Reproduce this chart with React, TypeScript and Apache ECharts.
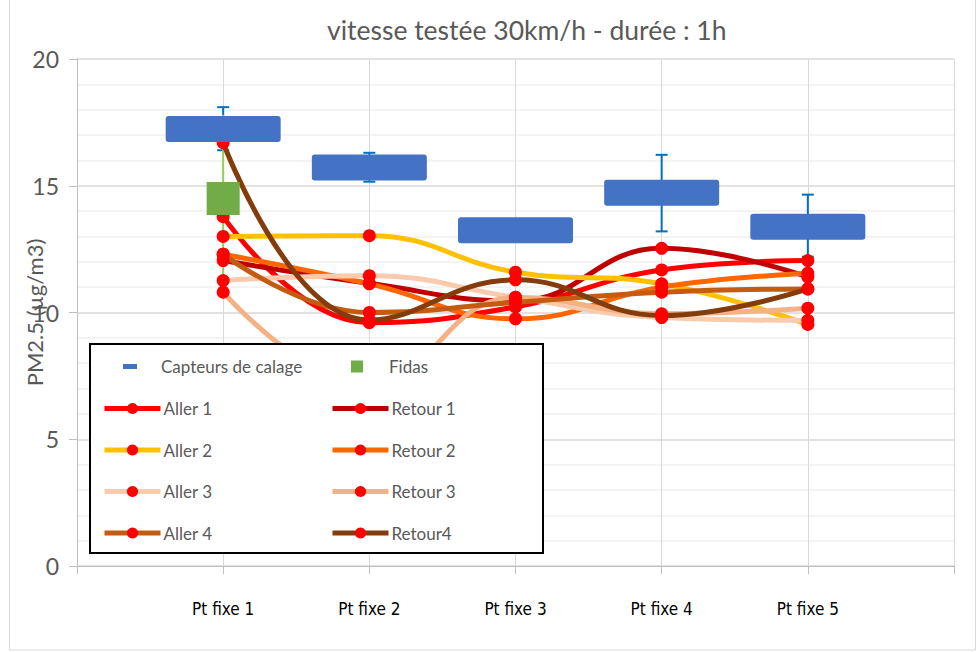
import React, { useEffect, useRef } from 'react';
import * as echarts from 'echarts';

const titleText = 'vitesse testée 30km/h - durée : 1h';
const yAxisName = 'PM2.5 (µg/m3)';
const categories = ['Pt fixe 1', 'Pt fixe 2', 'Pt fixe 3', 'Pt fixe 4', 'Pt fixe 5'];
const positions = [1, 2, 3, 4, 5];

const capteursMean = [17.24, 15.72, 13.24, 14.72, 13.38];
const capteursMin = [16.4, 15.16, 12.95, 13.2, 12.2];
const capteursMax = [18.1, 16.3, 13.55, 16.22, 14.65];

const fidasPos = [1];
const fidasMean = [14.5];
const fidasMin = [11.0];
const fidasMax = [17.8];

const aller1 = [13.78, 9.6, 10.22, 11.68, 12.05];
const retour1 = [12.05, 11.15, 10.45, 12.53, 11.4];
const aller2 = [13.0, 13.03, 11.59, 11.13, 9.53];
const retour2 = [12.3, 11.13, 9.75, 11.0, 11.55];
const aller3 = [11.26, 11.45, 10.6, 9.8, 9.69];
const retour3 = [10.8, 7.2, 10.6, 9.95, 10.17];
const aller4 = [12.3, 10.0, 10.4, 10.8, 10.93];
const retour4 = [16.7, 9.7, 11.29, 9.88, 10.93];

const lineNames = ['Aller 1', 'Retour 1', 'Aller 2', 'Retour 2', 'Aller 3', 'Retour 3', 'Aller 4', 'Retour4'];
const lineValues = [aller1, retour1, aller2, retour2, aller3, retour3, aller4, retour4];
const lineColors = ['#FF0000', '#C00000', '#FFC000', '#FF6600', '#F8CBAD', '#F4B183', '#C55A11', '#843C0C'];

const FONT = 'Lato, "Open Sans", sans-serif';
const TXT = '#595959';

export default function App() {
  const ref = useRef<HTMLDivElement>(null);
  useEffect(() => {
    document.body.style.margin = '0';
    const chart = echarts.init(ref.current!, null, { renderer: 'svg' });

    const errSeries = (name: string, xs: number[], lo: number[], hi: number[], color: string, cap: number) => ({
      type: 'custom',
      name,
      z: 1,
      silent: true,
      encode: { x: 0, y: [1, 2] },
      data: xs.map((x, i) => [x, lo[i], hi[i]]),
      renderItem: (params: any, api: any) => {
        const x = api.value(0);
        const a = api.coord([x, api.value(1)]);
        const b = api.coord([x, api.value(2)]);
        const st = { stroke: color, lineWidth: 2 };
        const children: any[] = [
          { type: 'line', shape: { x1: a[0], y1: a[1], x2: b[0], y2: b[1] }, style: st },
        ];
        if (cap > 0) {
          children.push({ type: 'line', shape: { x1: a[0] - cap, y1: a[1], x2: a[0] + cap, y2: a[1] }, style: st });
          children.push({ type: 'line', shape: { x1: b[0] - cap, y1: b[1], x2: b[0] + cap, y2: b[1] }, style: st });
        }
        return { type: 'group', children };
      },
    });

    const lineSeries = lineNames.map((name, k) => ({
      type: 'line',
      name,
      z: 2,
      smooth: 0.45,
      symbol: 'circle',
      symbolSize: 13,
      showSymbol: true,
      itemStyle: { color: '#FF0000' },
      lineStyle: { color: lineColors[k], width: 5 },
      data: positions.map((x, i) => [x, lineValues[k][i]]),
    }));

    const boxPath = 'path://M3,0h109a3,3 0 0 1 3,3v20a3,3 0 0 1 -3,3h-109a3,3 0 0 1 -3,-3v-20a3,3 0 0 1 3,-3z';

    const legendCols = [102, 330];
    const legendRowCenters = [365, 407, 448.5, 490, 531.5];
    const legendNames = ['Capteurs de calage', 'Fidas', ...lineNames];
    const legends = legendNames.map((name, i) => {
      const col = i % 2;
      const row = Math.floor(i / 2);
      let item: any = { name };
      if (name === 'Capteurs de calage') item = { name, icon: 'path://M0,0M56,14M21,4.5h14v5h-14z' };
      if (name === 'Fidas') item = { name, icon: 'path://M0,0M56,14M21,1h12v12h-12z' };
      return {
        data: [item],
        left: legendCols[col],
        top: legendRowCenters[row] - 7,
        padding: 0,
        itemWidth: 56,
        itemHeight: 14,
        itemGap: 0,
        z: 10,
        selectedMode: false,
        lineStyle: { width: 5 },
        textStyle: { color: TXT, fontSize: 17, fontFamily: FONT, padding: [0, 0, 0, -2] },
      };
    });

    chart.setOption({
      animation: false,
      backgroundColor: '#ffffff',
      title: {
        text: titleText,
        left: 327,
        top: 16,
        padding: 0,
        textStyle: { color: TXT, fontSize: 26.5, fontWeight: 'normal', fontFamily: FONT },
      },
      legend: legends,
      grid: { left: 77, right: 23, top: 59, bottom: 86, containLabel: false, outerBoundsMode: 'none' },
      xAxis: {
        type: 'value',
        min: 0,
        max: 6,
        interval: 1,
        axisLine: { show: true, lineStyle: { color: '#bfbfbf', width: 1 } },
        axisTick: { show: true, length: 8, lineStyle: { color: '#bfbfbf' } },
        splitLine: { show: true, lineStyle: { color: '#d9d9d9', width: 1 } },
        axisLabel: {
          margin: 34,
          color: '#000000',
          fontSize: 17,
          fontFamily: '"Liberation Sans Narrow", "DejaVu Sans Condensed", "Noto Sans", sans-serif',
          formatter: (v: number) => (v >= 1 && v <= categories.length ? categories[v - 1] : ''),
        },
      },
      yAxis: {
        type: 'value',
        min: 0,
        max: 20,
        interval: 5,
        name: yAxisName,
        nameLocation: 'middle',
        nameRotate: 90,
        nameGap: 32,
        nameMoveOverlap: false,
        nameTextStyle: { color: TXT, fontSize: 22, fontFamily: FONT },
        axisLine: { show: true, lineStyle: { color: '#bfbfbf', width: 1 } },
        axisTick: { show: true, length: 8, lineStyle: { color: '#bfbfbf' } },
        axisLabel: { margin: 18, color: TXT, fontSize: 23, fontFamily: FONT },
        splitLine: { show: true, lineStyle: { color: '#d9d9d9', width: 1.5 } },
        minorTick: { show: false, splitNumber: 5 },
        minorSplitLine: { show: true, lineStyle: { color: '#efefef', width: 1.5 } },
      },
      graphic: [
        {
          type: 'rect',
          z: 0,
          silent: true,
          shape: { x: 9.5, y: -2, width: 966, height: 652 },
          style: { fill: 'none', stroke: '#d9d9d9', lineWidth: 1 },
        },
        {
          type: 'rect',
          z: 9,
          silent: true,
          shape: { x: 90, y: 344, width: 453, height: 209 },
          style: { fill: '#ffffff', stroke: '#000000', lineWidth: 2 },
        },
      ],
      series: [
        errSeries('capteursErr', positions, capteursMin, capteursMax, '#0070C0', 6),
        errSeries('fidasErr', fidasPos, fidasMin, fidasMax, '#92D050', 0),
        ...lineSeries,
        {
          type: 'scatter',
          name: 'Capteurs de calage',
          z: 3,
          symbol: boxPath,
          symbolKeepAspect: false,
          symbolSize: [115, 26],
          itemStyle: { color: '#4472C4', opacity: 1 },
          data: positions.map((x, i) => [x, capteursMean[i]]),
        },
        {
          type: 'scatter',
          name: 'Fidas',
          z: 3,
          symbol: 'rect',
          symbolSize: 33,
          itemStyle: { color: '#70AD47', opacity: 1 },
          data: fidasPos.map((x, i) => [x, fidasMean[i]]),
        },
      ],
    });
    return () => chart.dispose();
  }, []);
  return <div ref={ref} style={{ width: 977, height: 652 }} />;
}
